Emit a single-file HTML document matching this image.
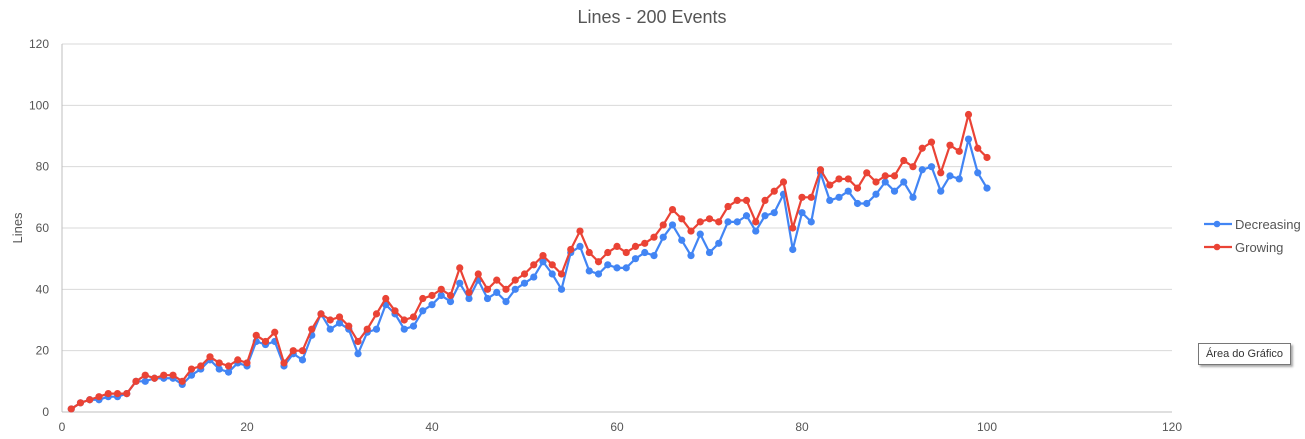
<!DOCTYPE html>
<html><head><meta charset="utf-8"><style>
body{margin:0;background:#fff;}
svg{display:block;font-family:"Liberation Sans",sans-serif;}
.tip{position:absolute;left:1198px;top:343px;width:91px;height:20px;border:1px solid #777;background:#fff;box-shadow:2px 2px 2px #aaa;font:11px "Liberation Sans",sans-serif;color:#333;line-height:20px;text-align:center;}
</style></head><body>
<div style="position:relative;width:1305px;height:439px;">
<svg id="c" width="1305" height="439"></svg>
<div class="tip">Área do Gráfico</div>
</div>
<script>
const xTicks=[0,20,40,60,80,100,120];
const yTicks=[0,20,40,60,80,100,120];
const growing=[1,3,4,5,6,6,6,10,12,11,12,12,10,14,15,18,16,15,17,16,25,23,26,16,20,20,27,32,30,31,28,23,27,32,37,33,30,31,37,38,40,38,47,39,45,40,43,40,43,45,48,51,48,45,53,59,52,49,52,54,52,54,55,57,61,66,63,59,62,63,62,67,69,69,62,69,72,75,60,70,70,79,74,76,76,73,78,75,77,77,82,80,86,88,78,87,85,97,86,83];
const decreasing=[1,3,4,4,5,5,6,10,10,11,11,11,9,12,14,17,14,13,16,15,23,22,23,15,19,17,25,32,27,29,27,19,26,27,35,32,27,28,33,35,38,36,42,37,43,37,39,36,40,42,44,49,45,40,52,54,46,45,48,47,47,50,52,51,57,61,56,51,58,52,55,62,62,64,59,64,65,71,53,65,62,78,69,70,72,68,68,71,75,72,75,70,79,80,72,77,76,89,78,73];
const NS='http://www.w3.org/2000/svg';
const svg=document.getElementById('c');
const L=62,R=1172,T=44,B=412;
const xs=v=>L+(R-L)*v/120, ys=v=>B-(B-T)*v/120;
function mk(t,a,p){const e=document.createElementNS(NS,t);for(const k in a)e.setAttribute(k,a[k]);(p||svg).appendChild(e);return e;}
let t=mk('text',{x:652,y:23,'text-anchor':'middle','font-size':18,fill:'#555'});t.textContent='Lines - 200 Events';


yTicks.forEach(v=>{
 const g=mk('line',{x1:L,x2:R,y1:ys(v),y2:ys(v),stroke:'#d9d9d9'});
 
 
 const l=mk('text',{x:L-13,y:ys(v)+4,'text-anchor':'end','font-size':12,fill:'#555'});l.textContent=v;
 
 
});
xTicks.forEach(v=>{
 const l=mk('text',{x:xs(v),y:431,'text-anchor':'middle','font-size':12,fill:'#555'});l.textContent=v;
 
 
});
const ax=mk('line',{x1:L,x2:L,y1:T,y2:B,stroke:'#bfbfbf'});


const bx=mk('line',{x1:L,x2:R,y1:B,y2:B,stroke:'#bfbfbf'});


const yt=mk('text',{x:0,y:0,transform:'translate(22,228) rotate(-90)','text-anchor':'middle','font-size':13,fill:'#555'});yt.textContent='Lines';


function series(data,color,name){
 const g=mk('g',{});
 
 
 mk('polyline',{points:data.map((v,i)=>xs(i+1)+','+ys(v)).join(' '),fill:'none',stroke:color,'stroke-width':2.2,'stroke-linejoin':'round'},g);
 data.forEach((v,i)=>{const c=mk('circle',{cx:xs(i+1),cy:ys(v),r:3.6,fill:color},g);
  
  });
}
series(decreasing,'#4285f4','decreasing');
series(growing,'#ea4335','growing');
[['Decreasing','#4285f4',224],['Growing','#ea4335',247]].forEach(([n,c,y])=>{
 const g=mk('g',{});
 
 
 mk('line',{x1:1204,x2:1232,y1:y,y2:y,stroke:c,'stroke-width':2.2},g);
 mk('circle',{cx:1217,cy:y,r:3.3,fill:c},g);
 const l=mk('text',{x:1235,y:y+5,'font-size':13,fill:'#555'},g);l.textContent=n;
});
</script>
</body></html>
